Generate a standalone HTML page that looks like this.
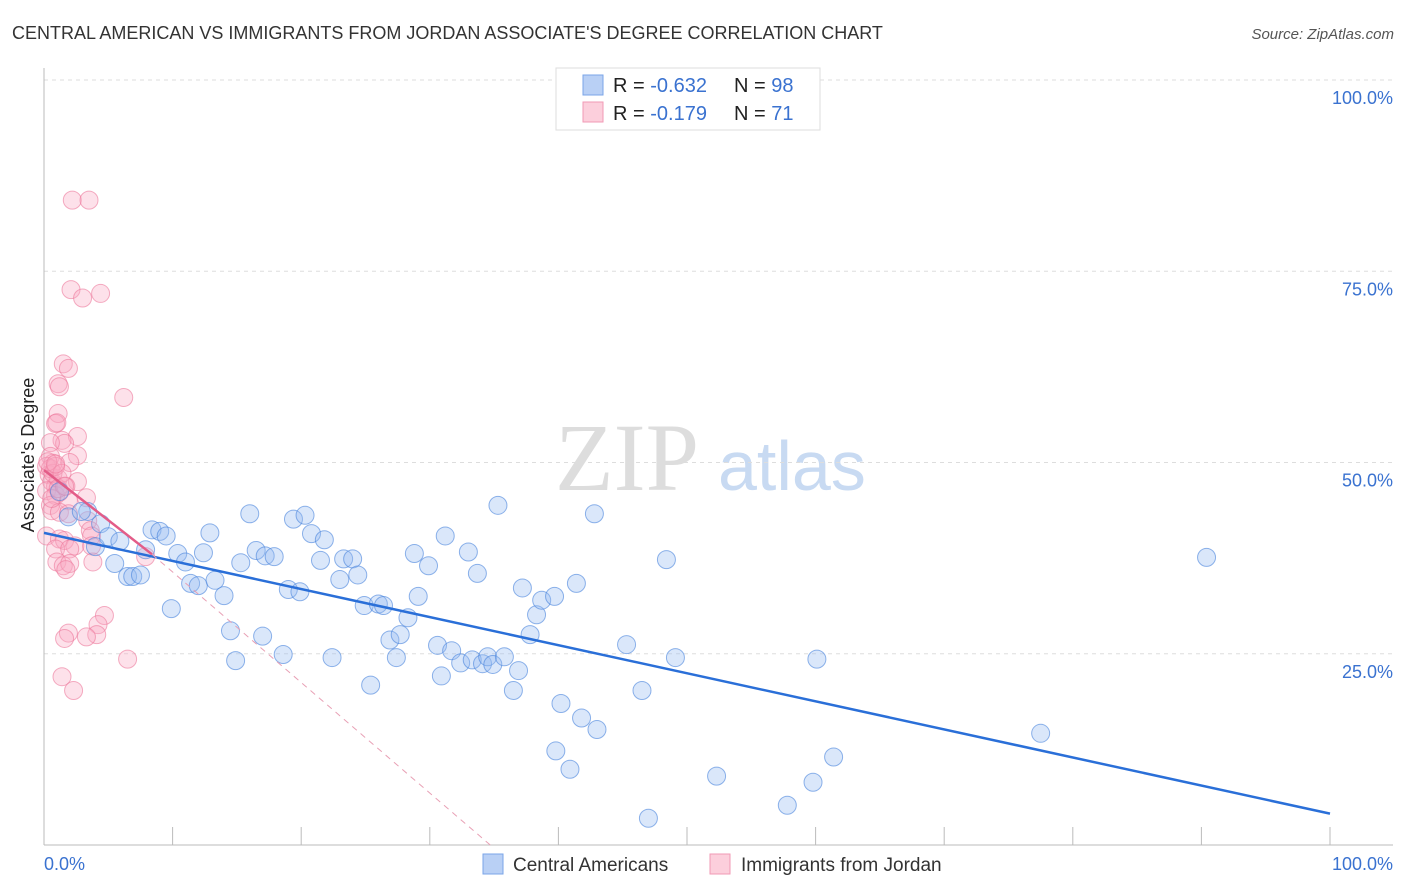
<!DOCTYPE html>
<html><head><meta charset="utf-8"><style>
body{margin:0;background:#fff;font-family:"Liberation Sans",sans-serif;}
svg{display:block}
</style></head><body>
<svg id="chart" width="1406" height="892">
<text x="12" y="39" font-size="18" fill="#333">CENTRAL AMERICAN VS IMMIGRANTS FROM JORDAN ASSOCIATE'S DEGREE CORRELATION CHART</text>
<text x="1394" y="39" font-size="15" fill="#555" text-anchor="end" font-style="italic">Source: ZipAtlas.com</text>
<text x="34" y="455" font-size="18" fill="#222" text-anchor="middle" transform="rotate(-90 34 455)">Associate's Degree</text>
<text x="555" y="490" font-size="96" fill="#ddd" font-family="Liberation Serif,serif">ZIP</text>
<text x="718" y="490" font-size="70" fill="#c8daf2">atlas</text>
<g id="grid"></g><g id="pts"></g><g id="lines"></g>
<g>
<rect x="556" y="68" width="264" height="62" fill="#fff" stroke="#ddd"/>
<rect x="583" y="75" width="20" height="20" fill="#b9d0f5" stroke="#7aa5e8"/>
<text x="613" y="92" font-size="20" fill="#222">R = <tspan fill="#3a72d0">-0.632</tspan></text>
<text x="734" y="92" font-size="20" fill="#222">N = <tspan fill="#3a72d0">98</tspan></text>
<rect x="583" y="102" width="20" height="20" fill="#fccfdc" stroke="#f19ab5"/>
<text x="613" y="120" font-size="20" fill="#222">R = <tspan fill="#3a72d0"> -0.179</tspan></text>
<text x="734" y="120" font-size="20" fill="#222">N = <tspan fill="#3a72d0"> 71</tspan></text>
</g>
<g>
<rect x="483" y="854" width="20" height="20" fill="#b9d0f5" stroke="#7aa5e8"/>
<text x="513" y="871" font-size="19" fill="#333">Central Americans</text>
<rect x="710" y="854" width="20" height="20" fill="#fccfdc" stroke="#f19ab5"/>
<text x="741" y="871" font-size="19" fill="#333">Immigrants from Jordan</text>
</g>
</svg>
<script>
const yTicks=[25,50,75,100];
const xTickLabels=["0.0%","100.0%"];
const blueX=[1.2,1.9,3.4,2.9,4.4,4.0,5.0,5.9,5.5,6.5,6.9,7.5,7.9,8.4,9.0,9.5,9.9,10.4,11.0,11.4,12.0,12.4,12.9,13.3,14.0,14.5,14.9,15.3,16.0,16.5,17.0,17.2,17.9,18.6,19.0,19.4,19.9,20.3,20.8,21.5,21.8,22.4,23.0,23.3,24.0,24.4,24.9,25.4,26.0,26.4,26.9,27.4,27.7,28.3,28.8,29.1,29.9,30.6,30.9,31.2,31.7,32.4,33.0,33.3,33.7,34.1,34.5,34.9,35.3,35.8,36.5,36.9,37.2,37.8,38.3,38.7,39.7,39.8,40.2,40.9,41.4,41.8,42.8,43.0,45.3,46.5,47.0,48.4,49.1,52.3,57.8,59.8,60.1,61.4,77.5,90.4];
const blueY=[46.2,42.9,43.6,43.6,42.0,39.0,40.3,39.7,36.8,35.1,35.1,35.3,38.6,41.2,41.0,40.4,30.9,38.1,37.0,34.2,33.9,38.2,40.8,34.6,32.6,28.0,24.1,36.9,43.3,38.5,27.3,37.8,37.7,24.9,33.4,42.6,33.1,43.1,40.7,37.2,39.9,24.5,34.7,37.4,37.4,35.3,31.3,20.9,31.5,31.3,26.8,24.5,27.5,29.7,38.1,32.5,36.5,26.1,22.1,40.4,25.4,23.8,38.3,24.2,35.5,23.7,24.6,23.6,44.4,24.6,20.2,22.8,33.6,27.5,30.1,32.0,32.5,12.3,18.5,9.9,34.2,16.6,43.3,15.1,26.2,20.2,3.5,37.3,24.5,9.0,5.2,8.2,24.3,11.5,14.6,37.6];
const pinkX=[2.2,3.5,2.1,3.0,4.4,1.5,1.9,1.1,1.2,6.2,1.1,0.9,1.0,2.6,1.4,1.6,2.6,0.5,0.5,0.7,2.0,0.2,0.4,0.6,0.9,1.1,2.6,1.2,0.2,0.9,1.9,3.3,0.5,0.6,1.2,1.9,3.4,3.6,3.7,0.2,1.2,1.6,2.4,0.9,2.0,3.7,1.0,1.5,2.0,3.8,1.7,4.7,4.2,4.1,1.9,3.3,1.6,6.5,1.4,2.3,7.9,0.5,0.7,0.9,0.3,0.6,1.1,1.7,1.4,0.9,1.6];
const pinkY=[84.3,84.3,72.6,71.5,72.1,62.9,62.3,60.3,59.9,58.5,56.4,55.1,55.2,53.4,52.9,52.5,50.9,52.6,50.8,49.9,50.0,49.5,48.4,47.5,46.9,47.9,47.5,46.1,46.3,45.7,45.0,45.4,44.4,43.7,43.5,43.3,42.4,41.1,40.4,40.4,40.0,39.8,39.1,38.7,38.7,39.1,37.0,36.5,36.8,37.0,36.0,30.0,28.8,27.5,27.7,27.2,27.0,24.3,22.0,20.2,37.7,49.2,48.6,49.5,50.1,45.3,46.6,46.9,48.6,49.8,46.9];
const blueFit=[40.8,4.1];
const pinkFit=[49.0,38.0,8.4];
const ns="http://www.w3.org/2000/svg";
const X0=44,X1=1330,Y0=845,Y1=80;
const sx=v=>X0+(X1-X0)*v/100, sy=v=>Y0-(Y0-Y1)*v/100;
function mk(t,a,p){const e=document.createElementNS(ns,t);for(const k in a)e.setAttribute(k,a[k]);p.appendChild(e);return e;}
const grid=document.getElementById('grid');
yTicks.forEach(t=>{
  const l=mk('line',{x1:X0,x2:1393,y1:sy(t),y2:sy(t),stroke:'#ddd','stroke-dasharray':'4,4'},grid);
  
  
  const tx=mk('text',{x:1393,y:sy(t)+24,'font-size':18,fill:'#3a72d0','text-anchor':'end'},grid);
  tx.textContent=t.toFixed(1)+'%';
  
  
});
const ax=mk('line',{x1:X0,x2:1393,y1:Y0,y2:Y0,stroke:'#bbb'},grid);


const ay=mk('line',{x1:X0,x2:X0,y1:68,y2:Y0,stroke:'#bbb'},grid);


for(let i=1;i<=10;i++){const t=mk('line',{x1:sx(i*10),x2:sx(i*10),y1:Y0,y2:Y0-18,stroke:'#bbb'},grid);
  
  }
xTickLabels.forEach((s,i)=>{const t=mk('text',{x:i?1393:44,y:870,'font-size':18,fill:'#3a72d0','text-anchor':i?'end':'start'},grid);t.textContent=s;
  
  });
const pts=document.getElementById('pts');
pinkX.forEach((v,i)=>{const c=mk('circle',{cx:sx(v),cy:sy(pinkY[i]),r:9,fill:'rgba(248,170,195,0.35)',stroke:'rgba(236,120,155,0.6)'},pts);
  
  });
blueX.forEach((v,i)=>{const c=mk('circle',{cx:sx(v),cy:sy(blueY[i]),r:9,fill:'rgba(150,185,240,0.35)',stroke:'rgba(70,130,220,0.6)'},pts);
  
  });
const lines=document.getElementById('lines');
const bl=mk('line',{x1:sx(0),y1:sy(blueFit[0]),x2:sx(100),y2:sy(blueFit[1]),stroke:'#2a6fd8','stroke-width':2.5},lines);


const pd=mk('line',{x1:sx(pinkFit[2]),y1:sy(pinkFit[1]),x2:sx(34.7),y2:sy(0),stroke:'#e8a0b5','stroke-width':1,'stroke-dasharray':'6,5'},lines);


const pl=mk('line',{x1:sx(0),y1:sy(pinkFit[0]),x2:sx(pinkFit[2]),y2:sy(pinkFit[1]),stroke:'#e35c88','stroke-width':2.5},lines);


</script>
</body></html>
